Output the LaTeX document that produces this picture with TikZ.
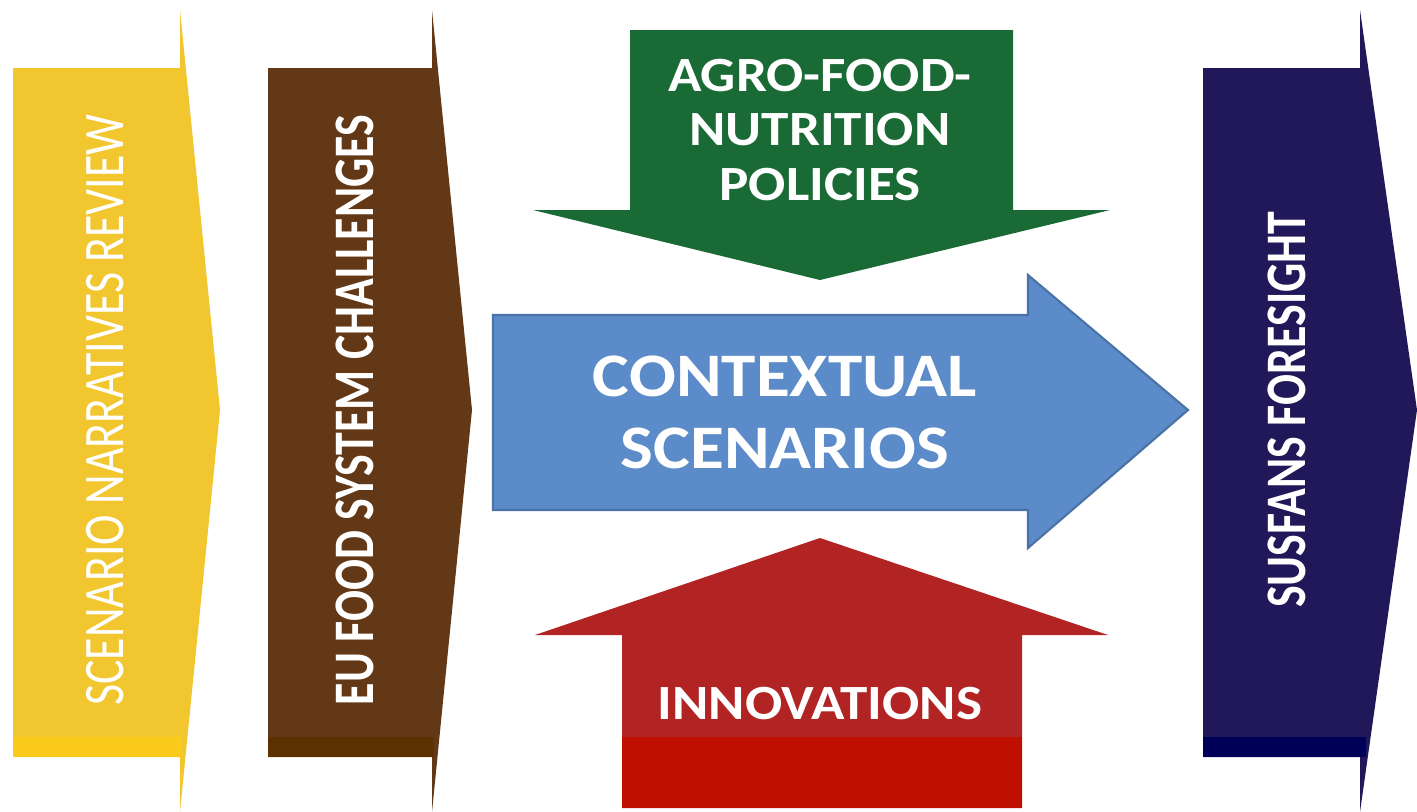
\documentclass[tikz,border=0pt]{standalone}
\usepackage{fontspec}
\setmainfont{Carlito}
\newfontfamily\condfont{Carlito}[FakeStretch=0.8]
\newfontfamily\widefont{Carlito}[FakeStretch=1.12]
\usepackage{xcolor}
\usetikzlibrary{positioning,calc}

\definecolor{scnyellow}{HTML}{F2C62E}
\definecolor{scnyellowband}{HTML}{FACB1A}
\definecolor{eubrown}{HTML}{633816}
\definecolor{eubrownband}{HTML}{5C3100}
\definecolor{susnavy}{HTML}{201858}
\definecolor{susnavyband}{HTML}{000058}
\definecolor{polgreen}{HTML}{1A6A35}
\definecolor{ctxblue}{HTML}{5B8BC8}
\definecolor{ctxedge}{HTML}{4A72A5}
\definecolor{innred}{HTML}{B22323}
\definecolor{innredband}{HTML}{BE0F00}

\begin{document}
\begin{tikzpicture}[x=0.01cm,y=-0.01cm,
  vlabel/.style={rotate=90,text=white,inner sep=0pt,font=\condfont\fontsize{16.3}{18}\selectfont},
  hlabel/.style={text=white,align=center,inner sep=0pt}]
\useasboundingbox (0,0) rectangle (1417,812);
% side chevrons
\fill[scnyellow] (13,68) -- (180,68) -- (180,10) -- (220,410) -- (180,812) -- (180,757) -- (13,757) -- cycle;
\fill[scnyellowband] (13,737) rectangle (182,757);
\fill[eubrown] (268,68) -- (432,68) -- (432,10) -- (472,410) -- (432,812) -- (432,757) -- (268,757) -- cycle;
\fill[eubrownband] (268,737) rectangle (434,757);
\fill[susnavy] (1203,68) -- (1360,68) -- (1360,10) -- (1417,410) -- (1360,812) -- (1360,757) -- (1203,757) -- cycle;
\fill[susnavyband] (1203,737) rectangle (1366,757);
% policies (down)
\fill[polgreen] (630,30) -- (1013,30) -- (1013,210) -- (1110,210) -- (820,280) -- (533,210) -- (630,210) -- cycle;
% contextual scenarios (right)
\filldraw[fill=ctxblue,draw=ctxedge,line width=0.6pt] (493,315) -- (1028,315) -- (1028,275) -- (1188,410) -- (1028,548) -- (1028,510) -- (493,510) -- cycle;
% innovations (up)
\fill[innred] (622,808) -- (622,635) -- (535,635) -- (820,538) -- (1108,635) -- (1022,635) -- (1022,808) -- cycle;
\fill[innredband] (622,737) rectangle (1022,808);
% labels
\node[vlabel] (review) at (105,410) {SCENARIO NARRATIVES REVIEW};
\node[vlabel,font=\condfont\bfseries\fontsize{16.3}{18}\selectfont] (challenges) at (355,410) {EU FOOD SYSTEM CHALLENGES};
\node[vlabel,font=\condfont\bfseries\fontsize{16.3}{18}\selectfont] (foresight) at (1287,410) {SUSFANS FORESIGHT};
\node[hlabel,font=\widefont\bfseries\fontsize{17.6}{20.5}\selectfont] (context) at (785,412) {CONTEXTUAL\\SCENARIOS};
\node[hlabel,font=\widefont\bfseries\fontsize{14}{15.6}\selectfont] (policies) at (820,130) {AGRO-FOOD-\\NUTRITION\\POLICIES};
\node[hlabel,font=\widefont\bfseries\fontsize{14}{16}\selectfont] (innov) at (820,704) {INNOVATIONS};
\end{tikzpicture}
\end{document}
